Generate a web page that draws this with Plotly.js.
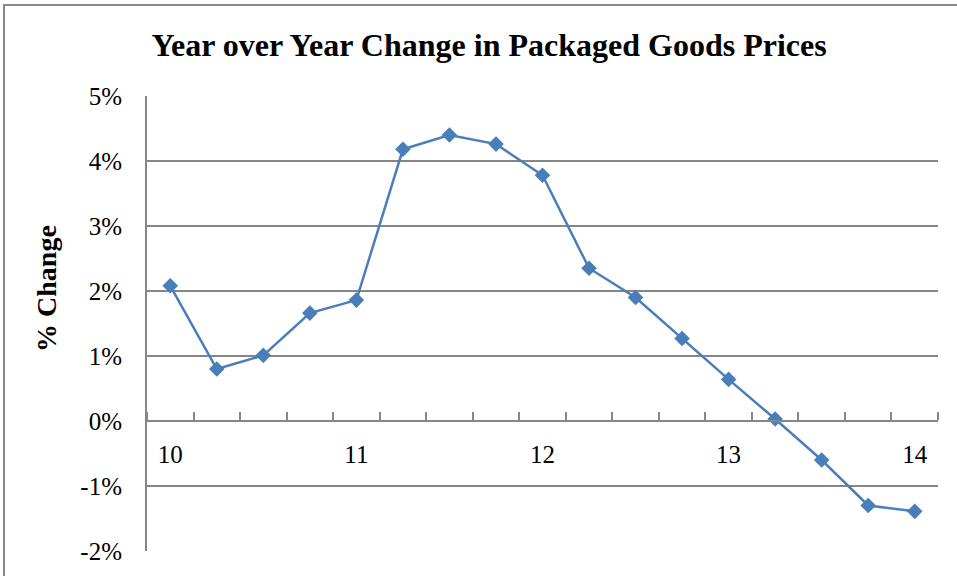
<!DOCTYPE html>
<html>
<head>
<meta charset="utf-8">
<script src="https://cdn.plot.ly/plotly-3.0.1.min.js"></script>
<style>html,body{margin:0;padding:0;background:#fff;}#chart{width:957px;height:576px;}</style>
</head>
<body>
<div id="chart"></div>
<script>
// Quarterly periods (year 2010 = 10 ... 2014 = 14)
const periods = [10, 10.25, 10.5, 10.75, 11, 11.25, 11.5, 11.75, 12, 12.25, 12.5, 12.75, 13, 13.25, 13.5, 13.75, 14];
// Year-over-year % change
const yoyChange = [2.08, 0.80, 1.01, 1.66, 1.86, 4.18, 4.40, 4.26, 3.78, 2.35, 1.90, 1.27, 0.64, 0.03, -0.60, -1.30, -1.39];
// Tick labels
const xTickVals = [10, 11, 12, 13, 14];
const xTickText = ['10', '11', '12', '13', '14'];
const yTickVals = [-2, -1, 0, 1, 2, 3, 4, 5];
const yTickText = ['-2%', '-1%', '0%', '1%', '2%', '3%', '4%', '5%'];

const serif = '"Liberation Serif", "Times New Roman", serif';
const gray = '#868686';
const blue = '#4A7EBB';

const trace = {
  x: periods,
  y: yoyChange,
  type: 'scatter',
  mode: 'lines+markers',
  line: {color: blue, width: 2.5},
  marker: {symbol: 'diamond', size: 12, color: blue},
  hoverinfo: 'x+y'
};

const layout = {
  width: 957,
  height: 576,
  margin: {l: 147, r: 19, t: 96, b: 25},
  paper_bgcolor: '#fff',
  plot_bgcolor: '#fff',
  showlegend: false,
  font: {family: serif, color: '#000', size: 25},
  title: {
    text: '<b>Year over Year Change in Packaged Goods Prices</b>',
    font: {family: serif, size: 32, color: '#000'},
    x: 0.511, xref: 'container', xanchor: 'center', y: 0.922, yref: 'container', yanchor: 'middle'
  },
  xaxis: {
    range: [9.875, 14.125],
    anchor: 'free',
    position: 2/7,
    tickvals: xTickVals,
    ticktext: xTickText,
    ticks: '',
    showgrid: false,
    zeroline: false,
    showline: true,
    linecolor: gray,
    linewidth: 2,
    ticklabelstandoff: 11,
    tickfont: {family: serif, size: 25, color: '#000'},
    minor: {ticks: 'inside', ticklen: 8, tickcolor: gray, tickwidth: 2, tick0: 9.875, dtick: 0.25, showgrid: false}
  },
  yaxis: {
    range: [-2, 5],
    tickvals: yTickVals,
    ticktext: yTickText,
    ticks: '',
    showgrid: true,
    gridcolor: gray,
    gridwidth: 2,
    zeroline: false,
    showline: true,
    linecolor: gray,
    linewidth: 2,
    ticklabelstandoff: 18,
    tickfont: {family: serif, size: 25, color: '#000'}
  },
  annotations: [{
    text: '<b>% Change</b>',
    xref: 'paper', yref: 'paper',
    x: -0.1264, y: 0.576,
    xanchor: 'center', yanchor: 'middle',
    showarrow: false,
    textangle: -90,
    font: {family: serif, size: 28, color: '#000'}
  }],
  shapes: [{
    type: 'rect', xref: 'paper', yref: 'paper',
    x0: -0.1808, x1: 1.03, y0: -0.07, y1: 1.2,
    line: {color: '#888', width: 2},
    fillcolor: 'rgba(0,0,0,0)',
    layer: 'below'
  }]
};

Plotly.newPlot('chart', [trace], layout, {displayModeBar: false, staticPlot: true});
</script>
</body>
</html>
